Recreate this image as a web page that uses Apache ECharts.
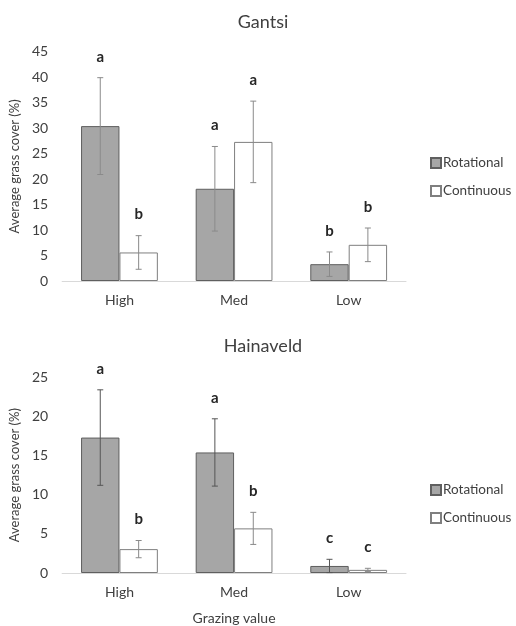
<!DOCTYPE html>
<html><head><meta charset="utf-8">
<script src="https://cdn.jsdelivr.net/npm/echarts@6/dist/echarts.min.js"></script>
<style>html,body{margin:0;padding:0;background:#fff}#c{width:516px;height:626px}</style>
</head><body><div id="c"></div>
<script>
var categories = ['High', 'Med', 'Low'];
var seriesNames = ['Rotational', 'Continuous'];
var gantsiRot = [30.4, 18.1, 3.3];
var gantsiRotErr = [9.5, 8.3, 2.4];
var gantsiCont = [5.6, 27.3, 7.1];
var gantsiContErr = [3.3, 8.0, 3.3];
var gantsiRotLetters = ['a', 'a', 'b'];
var gantsiContLetters = ['b', 'a', 'b'];
var hainRot = [17.3, 15.4, 0.9];
var hainRotErr = [6.1, 4.3, 0.85];
var hainCont = [3.05, 5.7, 0.4];
var hainContErr = [1.1, 2.05, 0.2];
var hainRotLetters = ['a', 'a', 'c'];
var hainContLetters = ['b', 'b', 'c'];
var titles = ['Gantsi', 'Hainaveld'];
var yMax = [45, 25];

var FONT = 'Lato';
var BAR_FRAC = 0.335;
var chart = echarts.init(document.getElementById('c'));

function errSeries(gi, vals, errs, letters, side, color) {
  var data = vals.map(function (v, i) { return [i, v, errs[i], letters[i]]; });
  return {
    type: 'custom', xAxisIndex: gi, yAxisIndex: gi, z: 10, silent: true,
    data: data,
    renderItem: function (params, api) {
      var i = api.value(0), v = api.value(1), e = api.value(2);
      var catW = api.size([1, 0])[0];
      var bw = catW * BAR_FRAC;
      var c = api.coord([i, v]);
      var x = c[0] + side * bw / 2;
      var top = api.coord([i, v + e])[1];
      var bot = api.coord([i, Math.max(v - e, 0)])[1];
      var cap = 3;
      var st = { stroke: color, lineWidth: 1 };
      return { type: 'group', children: [
        { type: 'line', shape: { x1: x, y1: top, x2: x, y2: bot }, style: st },
        { type: 'line', shape: { x1: x - cap, y1: top, x2: x + cap, y2: top }, style: st },
        { type: 'line', shape: { x1: x - cap, y1: bot, x2: x + cap, y2: bot }, style: st },
        { type: 'text', x: x, y: top - 21, style: { text: letters[i], fill: '#262626', font: 'bold 15px "' + FONT + '"', align: 'center', verticalAlign: 'middle' } }
      ] };
    }
  };
}

var grids = [
  { left: 61, right: 110, top: 51.7, height: 229.3 },
  { left: 61, right: 110, top: 377.3, height: 196.7 }
];
var txt = '#404040';

var option = {
  animation: false,
  textStyle: { fontFamily: FONT },
  title: [
    { text: titles[0], left: 258, top: 8, textAlign: 'center', textStyle: { fontFamily: FONT, fontSize: 18, fontWeight: 'normal', color: txt } },
    { text: titles[1], left: 258, top: 332, textAlign: 'center', textStyle: { fontFamily: FONT, fontSize: 18, fontWeight: 'normal', color: txt } }
  ],
  legend: [
    { orient: 'vertical', left: 425, top: 151, itemWidth: 10, itemHeight: 10, itemGap: 14, icon: 'rect', data: seriesNames,
      textStyle: { fontFamily: FONT, fontSize: 13.5, color: txt, padding: [0,0,0,-3] } },
    { orient: 'vertical', left: 425, top: 478, itemWidth: 10, itemHeight: 10, itemGap: 14, icon: 'rect', data: seriesNames,
      textStyle: { fontFamily: FONT, fontSize: 13.5, color: txt, padding: [0,0,0,-3] } }
  ],
  grid: grids,
  xAxis: [0, 1].map(function (g) {
    return {
      type: 'category', gridIndex: g, data: categories,
      axisLine: { lineStyle: { color: '#d9d9d9' } }, axisTick: { show: false },
      axisLabel: { color: txt, fontSize: 14, margin: 12, fontFamily: FONT },
      name: g === 1 ? 'Grazing value' : '', nameLocation: 'middle', nameGap: 38,
      nameTextStyle: { color: txt, fontSize: 14, fontFamily: FONT }
    };
  }),
  yAxis: [0, 1].map(function (g) {
    return {
      type: 'value', gridIndex: g, min: 0, max: yMax[g], interval: 5,
      axisLine: { show: false }, axisTick: { show: false }, splitLine: { show: false },
      axisLabel: { color: txt, fontSize: 14, margin: 14, fontFamily: FONT },
      name: 'Average grass cover (%)', nameLocation: 'middle', nameGap: 39,
      nameTextStyle: { color: txt, fontSize: 13, fontFamily: FONT }
    };
  }),
  series: [
    { name: seriesNames[0], type: 'bar', xAxisIndex: 0, yAxisIndex: 0, data: gantsiRot, barWidth: (BAR_FRAC * 100) + '%', barGap: '0%',
      itemStyle: { color: '#a6a6a6', borderColor: '#5f5f5f', borderWidth: 1 } },
    { name: seriesNames[1], type: 'bar', xAxisIndex: 0, yAxisIndex: 0, data: gantsiCont, barWidth: (BAR_FRAC * 100) + '%', barGap: '0%',
      itemStyle: { color: '#ffffff', borderColor: '#7f7f7f', borderWidth: 1 } },
    { name: seriesNames[0], type: 'bar', xAxisIndex: 1, yAxisIndex: 1, data: hainRot, barWidth: (BAR_FRAC * 100) + '%', barGap: '0%',
      itemStyle: { color: '#a6a6a6', borderColor: '#5f5f5f', borderWidth: 1 } },
    { name: seriesNames[1], type: 'bar', xAxisIndex: 1, yAxisIndex: 1, data: hainCont, barWidth: (BAR_FRAC * 100) + '%', barGap: '0%',
      itemStyle: { color: '#ffffff', borderColor: '#7f7f7f', borderWidth: 1 } },
    errSeries(0, gantsiRot, gantsiRotErr, gantsiRotLetters, -1, '#8a8a8a'),
    errSeries(0, gantsiCont, gantsiContErr, gantsiContLetters, 1, '#8a8a8a'),
    errSeries(1, hainRot, hainRotErr, hainRotLetters, -1, '#555555'),
    errSeries(1, hainCont, hainContErr, hainContLetters, 1, '#8a8a8a')
  ]
};
chart.setOption(option);
</script>
</body></html>
